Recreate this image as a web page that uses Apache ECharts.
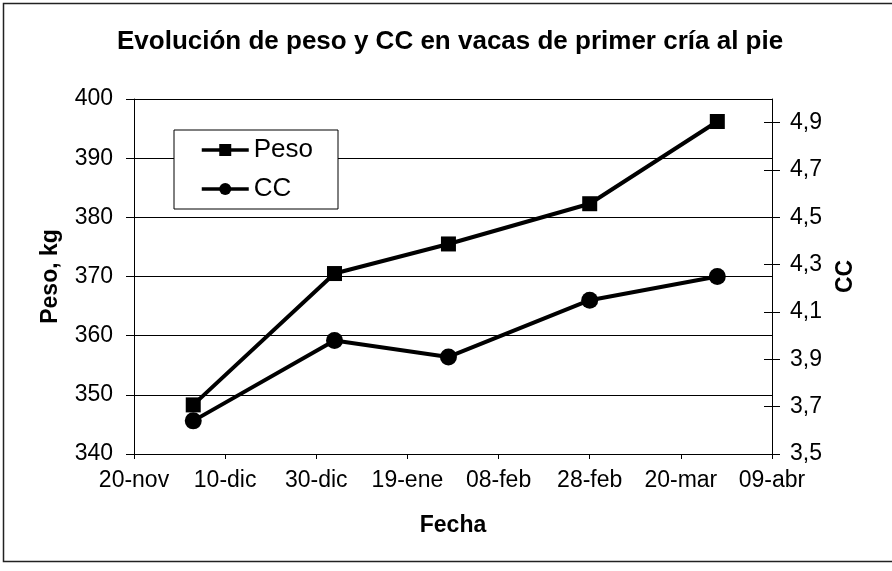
<!DOCTYPE html>
<html>
<head>
<meta charset="utf-8">
<script src="https://cdn.jsdelivr.net/npm/echarts@6/dist/echarts.min.js"></script>
<style>
html,body{margin:0;padding:0;background:#fff;}
#chart{width:892px;height:571px;}
</style>
</head>
<body>
<div id="chart"></div>
<script>
// fechas de pesada
var fechas = ['2006-12-03', '2007-01-03', '2007-01-28', '2007-02-28', '2007-03-28'];
var peso = [348.3, 370.5, 375.5, 382.3, 396.2];
var cc = [3.64, 3.98, 3.91, 4.15, 4.25];
var xTickLabels = ['20-nov', '10-dic', '30-dic', '19-ene', '08-feb', '28-feb', '20-mar', '09-abr'];
var ccTicks = [3.5, 3.7, 3.9, 4.1, 4.3, 4.5, 4.7, 4.9];

var origen = Date.parse('2006-11-20');
function dia(s){ return (Date.parse(s) - origen) / 86400000; }

var font = 'Liberation Sans, Arial, sans-serif';
var chart = echarts.init(document.getElementById('chart'));

var option = {
  animation: false,
  backgroundColor: '#fff',
  textStyle: {fontFamily: font, color: '#000'},
  title: {
    text: 'Evolución de peso y CC en vacas de primer cría al pie',
    left: 112,
    top: 24,
    textStyle: {fontFamily: font, fontSize: 26, fontWeight: 'bold', color: '#000'}
  },
  graphic: [{
    type: 'rect',
    shape: {x: 3.5, y: 3.5, width: 950, height: 558},
    style: {fill: 'none', stroke: '#222', lineWidth: 1.5},
    silent: true
  }],
  legend: {
    orient: 'vertical',
    left: 174,
    top: 130,
    padding: [7, 25, 7, 26],
    itemWidth: 47,
    itemHeight: 15,
    itemGap: 13,
    backgroundColor: '#fff',
    borderColor: '#000',
    borderWidth: 1,
    lineStyle: {width: 3.5, color: '#000'},
    textStyle: {fontFamily: font, fontSize: 26, color: '#000', lineHeight: 26},
    data: ['Peso', 'CC']
  },
  grid: {left: 134, right: 120, top: 99, bottom: 117},
  xAxis: {
    type: 'value',
    min: 0,
    max: 140,
    interval: 20,
    name: 'Fecha',
    nameLocation: 'middle',
    nameGap: 60,
    nameTextStyle: {fontFamily: font, fontSize: 23, fontWeight: 'bold', color: '#000'},
    axisLine: {lineStyle: {color: '#000', width: 1}},
    axisTick: {show: true, length: 5, lineStyle: {color: '#000'}},
    splitLine: {show: false},
    axisLabel: {
      fontFamily: font, fontSize: 23, color: '#000', margin: 15,
      formatter: function(v){ return xTickLabels[Math.round(v / 20)]; }
    }
  },
  yAxis: [{
    type: 'value',
    min: 340,
    max: 400,
    interval: 10,
    name: 'Peso, kg',
    nameLocation: 'middle',
    nameGap: 72,
    nameTextStyle: {fontFamily: font, fontSize: 23, fontWeight: 'bold', color: '#000'},
    axisLine: {show: true, lineStyle: {color: '#000', width: 1}},
    axisTick: {show: true, length: 8, lineStyle: {color: '#000'}},
    splitLine: {show: true, lineStyle: {color: '#000', width: 1}},
    axisLabel: {fontFamily: font, fontSize: 23, color: '#000', margin: 21}
  }, {
    type: 'value',
    position: 'right',
    min: 3.5,
    max: 5.0,
    name: 'CC',
    nameLocation: 'middle',
    nameGap: 62,
    nameRotate: 90,
    nameTextStyle: {fontFamily: font, fontSize: 23, fontWeight: 'bold', color: '#000'},
    axisLine: {show: true, lineStyle: {color: '#000', width: 1}},
    axisTick: {show: true, length: 8, customValues: ccTicks, lineStyle: {color: '#000'}},
    splitLine: {show: false},
    axisLabel: {
      fontFamily: font, fontSize: 23, color: '#000', margin: 18,
      customValues: ccTicks,
      formatter: function(v){ return v.toFixed(1).replace('.', ','); }
    }
  }, {
    type: 'value',
    position: 'right',
    min: 3.5,
    max: 5.0,
    axisLine: {show: false},
    axisTick: {show: true, inside: true, length: 8, customValues: ccTicks, lineStyle: {color: '#000'}},
    axisLabel: {show: false},
    splitLine: {show: false}
  }],
  series: [{
    name: 'Peso',
    type: 'line',
    yAxisIndex: 0,
    data: fechas.map(function(f, i){ return [dia(f), peso[i]]; }),
    symbol: 'rect',
    symbolSize: 15,
    lineStyle: {color: '#000', width: 4},
    itemStyle: {color: '#000'}
  }, {
    name: 'CC',
    type: 'line',
    yAxisIndex: 1,
    data: fechas.map(function(f, i){ return [dia(f), cc[i]]; }),
    symbol: 'circle',
    symbolSize: 17,
    lineStyle: {color: '#000', width: 4},
    itemStyle: {color: '#000'}
  }]
};
chart.setOption(option);
</script>
</body>
</html>
